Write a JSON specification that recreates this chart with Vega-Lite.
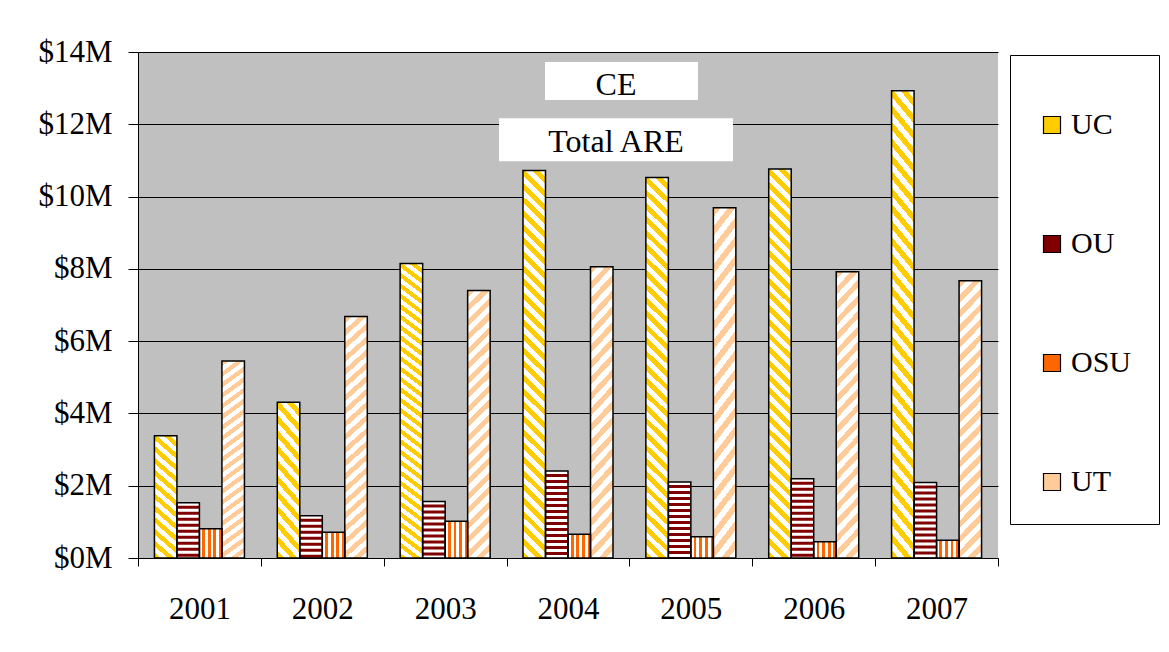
{
  "$schema": "https://vega.github.io/schema/vega-lite/v6.json",
  "width": 860,
  "height": 506,
  "autosize": {"type": "none"},
  "padding": {"left": 138, "top": 52, "right": 171, "bottom": 94},
  "background": "white",
  "config": {
    "view": {"fill": "#C0C0C0", "stroke": null},
    "font": "Liberation Serif",
    "axis": {"labelFont": "Liberation Serif", "labelFontSize": 31, "labelColor": "#000", "domainColor": "#000", "domainWidth": 1, "tickColor": "#000", "tickWidth": 1},
    "axisX": {"tickBand": "extent", "tickSize": 8, "labelPadding": 28, "labelAngle": 0, "grid": false},
    "axisY": {"grid": true, "gridColor": "#000", "gridWidth": 1, "gridOpacity": 1, "tickSize": 10, "labelPadding": 16},
    "legend": {"orient": "none", "legendX": 872, "legendY": 3, "padding": 27, "strokeColor": "#000", "strokeWidth": 1, "fillColor": "#fff", "symbolType": "square", "symbolSize": 289, "symbolStrokeColor": "#000", "symbolStrokeWidth": 1.2, "symbolOpacity": 1, "labelFont": "Liberation Serif", "labelFontSize": 30, "labelColor": "#000", "labelOffset": 4, "rowPadding": 89, "titleFontSize": 14, "titlePadding": 14}
  },
  "data": {"values": [
    {"year": "2001", "series": "UC", "v": 3.38}, {"year": "2001", "series": "OU", "v": 1.53}, {"year": "2001", "series": "OSU", "v": 0.81}, {"year": "2001", "series": "UT", "v": 5.45},
    {"year": "2002", "series": "UC", "v": 4.31}, {"year": "2002", "series": "OU", "v": 1.17}, {"year": "2002", "series": "OSU", "v": 0.71}, {"year": "2002", "series": "UT", "v": 6.68},
    {"year": "2003", "series": "UC", "v": 8.15}, {"year": "2003", "series": "OU", "v": 1.56}, {"year": "2003", "series": "OSU", "v": 1.02}, {"year": "2003", "series": "UT", "v": 7.40},
    {"year": "2004", "series": "UC", "v": 10.72}, {"year": "2004", "series": "OU", "v": 2.41}, {"year": "2004", "series": "OSU", "v": 0.66}, {"year": "2004", "series": "UT", "v": 8.06},
    {"year": "2005", "series": "UC", "v": 10.53}, {"year": "2005", "series": "OU", "v": 2.10}, {"year": "2005", "series": "OSU", "v": 0.59}, {"year": "2005", "series": "UT", "v": 9.69},
    {"year": "2006", "series": "UC", "v": 10.76}, {"year": "2006", "series": "OU", "v": 2.19}, {"year": "2006", "series": "OSU", "v": 0.45}, {"year": "2006", "series": "UT", "v": 7.92},
    {"year": "2007", "series": "UC", "v": 12.93}, {"year": "2007", "series": "OU", "v": 2.09}, {"year": "2007", "series": "OSU", "v": 0.49}, {"year": "2007", "series": "UT", "v": 7.67}
  ]},
  "layer": [
    {
      "mark": {"type": "bar"},
      "encoding": {
        "x": {"field": "year", "type": "nominal", "title": null, "scale": {"paddingInner": 0, "paddingOuter": 0}},
        "xOffset": {"field": "series", "type": "nominal", "scale": {"domain": ["UC", "OU", "OSU", "UT"], "paddingInner": 0, "paddingOuter": 0.73}},
        "y": {"field": "v", "type": "quantitative", "title": null, "scale": {"domain": [0, 14]}, "axis": {"values": [0, 2, 4, 6, 8, 10, 12, 14], "labelExpr": "'$' + datum.value + 'M'"}},
        "fill": {"field": "series", "type": "nominal", "scale": {"domain": ["UC", "OU", "OSU", "UT"], "range": ["#FFCC00", "#800000", "#FF6600", "#FFCC99"]}, "legend": {"title": " ", "encode": {"symbols": {"update": {"stroke": {"value": "#000"}, "strokeWidth": {"value": 1.2}, "fill": {"signal": "datum.value === 'UC' ? {gradient: 'linear', x1: 0, y1: 1, x2: 1, y2: 0, stops: [{offset: 0, color: '#fff'}, {offset: 0.3, color: '#fff'}, {offset: 0.3, color: '#fc0'}, {offset: 0.7, color: '#fc0'}, {offset: 0.7, color: '#fff'}, {offset: 1, color: '#fff'}]} : datum.value === 'OU' ? {gradient: 'linear', x1: 0, y1: 0, x2: 0, y2: 1, stops: [{offset: 0, color: '#800000'}, {offset: 0.2, color: '#800000'}, {offset: 0.2, color: '#fff'}, {offset: 0.4, color: '#fff'}, {offset: 0.4, color: '#800000'}, {offset: 0.6, color: '#800000'}, {offset: 0.6, color: '#fff'}, {offset: 0.8, color: '#fff'}, {offset: 0.8, color: '#800000'}, {offset: 1, color: '#800000'}]} : datum.value === 'OSU' ? {gradient: 'linear', x1: 0, y1: 0, x2: 1, y2: 0, stops: [{offset: 0, color: '#f60'}, {offset: 0.2, color: '#f60'}, {offset: 0.2, color: '#fff'}, {offset: 0.4, color: '#fff'}, {offset: 0.4, color: '#f60'}, {offset: 0.6, color: '#f60'}, {offset: 0.6, color: '#fff'}, {offset: 0.8, color: '#fff'}, {offset: 0.8, color: '#f60'}, {offset: 1, color: '#f60'}]} : {gradient: 'linear', x1: 0, y1: 0, x2: 1, y2: 1, stops: [{offset: 0, color: '#fff'}, {offset: 0.3, color: '#fff'}, {offset: 0.3, color: '#fc9'}, {offset: 0.7, color: '#fc9'}, {offset: 0.7, color: '#fff'}, {offset: 1, color: '#fff'}]}"}}}}}}
      }
    },
    {
      "transform": [{"filter": "datum.series === 'UC' && datum.v < 6"}],
      "mark": {"type": "bar", "fill": {"gradient": "linear", "x1": 0, "y1": 1, "x2": 0.1833, "y2": -0.1322, "stops": [
        {"offset": 0, "color": "#fc0"}, {"offset": 0.0417, "color": "#fc0"}, {"offset": 0.0417, "color": "#fff"}, {"offset": 0.0833, "color": "#fff"},
        {"offset": 0.0833, "color": "#fc0"}, {"offset": 0.125, "color": "#fc0"}, {"offset": 0.125, "color": "#fff"}, {"offset": 0.1667, "color": "#fff"},
        {"offset": 0.1667, "color": "#fc0"}, {"offset": 0.2083, "color": "#fc0"}, {"offset": 0.2083, "color": "#fff"}, {"offset": 0.25, "color": "#fff"},
        {"offset": 0.25, "color": "#fc0"}, {"offset": 0.2917, "color": "#fc0"}, {"offset": 0.2917, "color": "#fff"}, {"offset": 0.3333, "color": "#fff"},
        {"offset": 0.3333, "color": "#fc0"}, {"offset": 0.375, "color": "#fc0"}, {"offset": 0.375, "color": "#fff"}, {"offset": 0.4167, "color": "#fff"},
        {"offset": 0.4167, "color": "#fc0"}, {"offset": 0.4583, "color": "#fc0"}, {"offset": 0.4583, "color": "#fff"}, {"offset": 0.5, "color": "#fff"},
        {"offset": 0.5, "color": "#fc0"}, {"offset": 0.5417, "color": "#fc0"}, {"offset": 0.5417, "color": "#fff"}, {"offset": 0.5833, "color": "#fff"},
        {"offset": 0.5833, "color": "#fc0"}, {"offset": 0.625, "color": "#fc0"}, {"offset": 0.625, "color": "#fff"}, {"offset": 0.6667, "color": "#fff"},
        {"offset": 0.6667, "color": "#fc0"}, {"offset": 0.7083, "color": "#fc0"}, {"offset": 0.7083, "color": "#fff"}, {"offset": 0.75, "color": "#fff"},
        {"offset": 0.75, "color": "#fc0"}, {"offset": 0.7917, "color": "#fc0"}, {"offset": 0.7917, "color": "#fff"}, {"offset": 0.8333, "color": "#fff"},
        {"offset": 0.8333, "color": "#fc0"}, {"offset": 0.875, "color": "#fc0"}, {"offset": 0.875, "color": "#fff"}, {"offset": 0.9167, "color": "#fff"},
        {"offset": 0.9167, "color": "#fc0"}, {"offset": 0.9583, "color": "#fc0"}, {"offset": 0.9583, "color": "#fff"}, {"offset": 1, "color": "#fff"}
      ]}},
      "encoding": {
        "x": {"field": "year", "type": "nominal", "title": null},
        "xOffset": {"field": "series", "type": "nominal", "scale": {"domain": ["UC", "OU", "OSU", "UT"], "paddingInner": 0, "paddingOuter": 0.73}},
        "y": {"field": "v", "type": "quantitative", "title": null}
      }
    },
    {
      "transform": [{"filter": "datum.series === 'UC' && datum.v >= 6"}],
      "mark": {"type": "bar", "fill": {"gradient": "linear", "x1": 0, "y1": 1, "x2": 0.0608, "y2": -0.0542, "stops": [
        {"offset": 0, "color": "#fc0"}, {"offset": 0.0167, "color": "#fc0"}, {"offset": 0.0167, "color": "#fff"}, {"offset": 0.0333, "color": "#fff"},
        {"offset": 0.0333, "color": "#fc0"}, {"offset": 0.05, "color": "#fc0"}, {"offset": 0.05, "color": "#fff"}, {"offset": 0.0667, "color": "#fff"},
        {"offset": 0.0667, "color": "#fc0"}, {"offset": 0.0833, "color": "#fc0"}, {"offset": 0.0833, "color": "#fff"}, {"offset": 0.1, "color": "#fff"},
        {"offset": 0.1, "color": "#fc0"}, {"offset": 0.1167, "color": "#fc0"}, {"offset": 0.1167, "color": "#fff"}, {"offset": 0.1333, "color": "#fff"},
        {"offset": 0.1333, "color": "#fc0"}, {"offset": 0.15, "color": "#fc0"}, {"offset": 0.15, "color": "#fff"}, {"offset": 0.1667, "color": "#fff"},
        {"offset": 0.1667, "color": "#fc0"}, {"offset": 0.1833, "color": "#fc0"}, {"offset": 0.1833, "color": "#fff"}, {"offset": 0.2, "color": "#fff"},
        {"offset": 0.2, "color": "#fc0"}, {"offset": 0.2167, "color": "#fc0"}, {"offset": 0.2167, "color": "#fff"}, {"offset": 0.2333, "color": "#fff"},
        {"offset": 0.2333, "color": "#fc0"}, {"offset": 0.25, "color": "#fc0"}, {"offset": 0.25, "color": "#fff"}, {"offset": 0.2667, "color": "#fff"},
        {"offset": 0.2667, "color": "#fc0"}, {"offset": 0.2833, "color": "#fc0"}, {"offset": 0.2833, "color": "#fff"}, {"offset": 0.3, "color": "#fff"},
        {"offset": 0.3, "color": "#fc0"}, {"offset": 0.3167, "color": "#fc0"}, {"offset": 0.3167, "color": "#fff"}, {"offset": 0.3333, "color": "#fff"},
        {"offset": 0.3333, "color": "#fc0"}, {"offset": 0.35, "color": "#fc0"}, {"offset": 0.35, "color": "#fff"}, {"offset": 0.3667, "color": "#fff"},
        {"offset": 0.3667, "color": "#fc0"}, {"offset": 0.3833, "color": "#fc0"}, {"offset": 0.3833, "color": "#fff"}, {"offset": 0.4, "color": "#fff"},
        {"offset": 0.4, "color": "#fc0"}, {"offset": 0.4167, "color": "#fc0"}, {"offset": 0.4167, "color": "#fff"}, {"offset": 0.4333, "color": "#fff"},
        {"offset": 0.4333, "color": "#fc0"}, {"offset": 0.45, "color": "#fc0"}, {"offset": 0.45, "color": "#fff"}, {"offset": 0.4667, "color": "#fff"},
        {"offset": 0.4667, "color": "#fc0"}, {"offset": 0.4833, "color": "#fc0"}, {"offset": 0.4833, "color": "#fff"}, {"offset": 0.5, "color": "#fff"},
        {"offset": 0.5, "color": "#fc0"}, {"offset": 0.5167, "color": "#fc0"}, {"offset": 0.5167, "color": "#fff"}, {"offset": 0.5333, "color": "#fff"},
        {"offset": 0.5333, "color": "#fc0"}, {"offset": 0.55, "color": "#fc0"}, {"offset": 0.55, "color": "#fff"}, {"offset": 0.5667, "color": "#fff"},
        {"offset": 0.5667, "color": "#fc0"}, {"offset": 0.5833, "color": "#fc0"}, {"offset": 0.5833, "color": "#fff"}, {"offset": 0.6, "color": "#fff"},
        {"offset": 0.6, "color": "#fc0"}, {"offset": 0.6167, "color": "#fc0"}, {"offset": 0.6167, "color": "#fff"}, {"offset": 0.6333, "color": "#fff"},
        {"offset": 0.6333, "color": "#fc0"}, {"offset": 0.65, "color": "#fc0"}, {"offset": 0.65, "color": "#fff"}, {"offset": 0.6667, "color": "#fff"},
        {"offset": 0.6667, "color": "#fc0"}, {"offset": 0.6833, "color": "#fc0"}, {"offset": 0.6833, "color": "#fff"}, {"offset": 0.7, "color": "#fff"},
        {"offset": 0.7, "color": "#fc0"}, {"offset": 0.7167, "color": "#fc0"}, {"offset": 0.7167, "color": "#fff"}, {"offset": 0.7333, "color": "#fff"},
        {"offset": 0.7333, "color": "#fc0"}, {"offset": 0.75, "color": "#fc0"}, {"offset": 0.75, "color": "#fff"}, {"offset": 0.7667, "color": "#fff"},
        {"offset": 0.7667, "color": "#fc0"}, {"offset": 0.7833, "color": "#fc0"}, {"offset": 0.7833, "color": "#fff"}, {"offset": 0.8, "color": "#fff"},
        {"offset": 0.8, "color": "#fc0"}, {"offset": 0.8167, "color": "#fc0"}, {"offset": 0.8167, "color": "#fff"}, {"offset": 0.8333, "color": "#fff"},
        {"offset": 0.8333, "color": "#fc0"}, {"offset": 0.85, "color": "#fc0"}, {"offset": 0.85, "color": "#fff"}, {"offset": 0.8667, "color": "#fff"},
        {"offset": 0.8667, "color": "#fc0"}, {"offset": 0.8833, "color": "#fc0"}, {"offset": 0.8833, "color": "#fff"}, {"offset": 0.9, "color": "#fff"},
        {"offset": 0.9, "color": "#fc0"}, {"offset": 0.9167, "color": "#fc0"}, {"offset": 0.9167, "color": "#fff"}, {"offset": 0.9333, "color": "#fff"},
        {"offset": 0.9333, "color": "#fc0"}, {"offset": 0.95, "color": "#fc0"}, {"offset": 0.95, "color": "#fff"}, {"offset": 0.9667, "color": "#fff"},
        {"offset": 0.9667, "color": "#fc0"}, {"offset": 0.9833, "color": "#fc0"}, {"offset": 0.9833, "color": "#fff"}, {"offset": 1, "color": "#fff"}
      ]}},
      "encoding": {
        "x": {"field": "year", "type": "nominal", "title": null},
        "xOffset": {"field": "series", "type": "nominal", "scale": {"domain": ["UC", "OU", "OSU", "UT"], "paddingInner": 0, "paddingOuter": 0.73}},
        "y": {"field": "v", "type": "quantitative", "title": null}
      }
    },
    {
      "transform": [{"filter": "datum.series === 'UT'"}],
      "mark": {"type": "bar", "fill": {"gradient": "linear", "x1": 0, "y1": 0, "x2": 0.0897, "y2": 1.0759, "stops": [
        {"offset": 0, "color": "#fc9"}, {"offset": 0.025, "color": "#fc9"}, {"offset": 0.025, "color": "#fff"}, {"offset": 0.05, "color": "#fff"},
        {"offset": 0.05, "color": "#fc9"}, {"offset": 0.075, "color": "#fc9"}, {"offset": 0.075, "color": "#fff"}, {"offset": 0.1, "color": "#fff"},
        {"offset": 0.1, "color": "#fc9"}, {"offset": 0.125, "color": "#fc9"}, {"offset": 0.125, "color": "#fff"}, {"offset": 0.15, "color": "#fff"},
        {"offset": 0.15, "color": "#fc9"}, {"offset": 0.175, "color": "#fc9"}, {"offset": 0.175, "color": "#fff"}, {"offset": 0.2, "color": "#fff"},
        {"offset": 0.2, "color": "#fc9"}, {"offset": 0.225, "color": "#fc9"}, {"offset": 0.225, "color": "#fff"}, {"offset": 0.25, "color": "#fff"},
        {"offset": 0.25, "color": "#fc9"}, {"offset": 0.275, "color": "#fc9"}, {"offset": 0.275, "color": "#fff"}, {"offset": 0.3, "color": "#fff"},
        {"offset": 0.3, "color": "#fc9"}, {"offset": 0.325, "color": "#fc9"}, {"offset": 0.325, "color": "#fff"}, {"offset": 0.35, "color": "#fff"},
        {"offset": 0.35, "color": "#fc9"}, {"offset": 0.375, "color": "#fc9"}, {"offset": 0.375, "color": "#fff"}, {"offset": 0.4, "color": "#fff"},
        {"offset": 0.4, "color": "#fc9"}, {"offset": 0.425, "color": "#fc9"}, {"offset": 0.425, "color": "#fff"}, {"offset": 0.45, "color": "#fff"},
        {"offset": 0.45, "color": "#fc9"}, {"offset": 0.475, "color": "#fc9"}, {"offset": 0.475, "color": "#fff"}, {"offset": 0.5, "color": "#fff"},
        {"offset": 0.5, "color": "#fc9"}, {"offset": 0.525, "color": "#fc9"}, {"offset": 0.525, "color": "#fff"}, {"offset": 0.55, "color": "#fff"},
        {"offset": 0.55, "color": "#fc9"}, {"offset": 0.575, "color": "#fc9"}, {"offset": 0.575, "color": "#fff"}, {"offset": 0.6, "color": "#fff"},
        {"offset": 0.6, "color": "#fc9"}, {"offset": 0.625, "color": "#fc9"}, {"offset": 0.625, "color": "#fff"}, {"offset": 0.65, "color": "#fff"},
        {"offset": 0.65, "color": "#fc9"}, {"offset": 0.675, "color": "#fc9"}, {"offset": 0.675, "color": "#fff"}, {"offset": 0.7, "color": "#fff"},
        {"offset": 0.7, "color": "#fc9"}, {"offset": 0.725, "color": "#fc9"}, {"offset": 0.725, "color": "#fff"}, {"offset": 0.75, "color": "#fff"},
        {"offset": 0.75, "color": "#fc9"}, {"offset": 0.775, "color": "#fc9"}, {"offset": 0.775, "color": "#fff"}, {"offset": 0.8, "color": "#fff"},
        {"offset": 0.8, "color": "#fc9"}, {"offset": 0.825, "color": "#fc9"}, {"offset": 0.825, "color": "#fff"}, {"offset": 0.85, "color": "#fff"},
        {"offset": 0.85, "color": "#fc9"}, {"offset": 0.875, "color": "#fc9"}, {"offset": 0.875, "color": "#fff"}, {"offset": 0.9, "color": "#fff"},
        {"offset": 0.9, "color": "#fc9"}, {"offset": 0.925, "color": "#fc9"}, {"offset": 0.925, "color": "#fff"}, {"offset": 0.95, "color": "#fff"},
        {"offset": 0.95, "color": "#fc9"}, {"offset": 0.975, "color": "#fc9"}, {"offset": 0.975, "color": "#fff"}, {"offset": 1, "color": "#fff"}
      ]}},
      "encoding": {
        "x": {"field": "year", "type": "nominal", "title": null},
        "xOffset": {"field": "series", "type": "nominal", "scale": {"domain": ["UC", "OU", "OSU", "UT"], "paddingInner": 0, "paddingOuter": 0.73}},
        "y": {"field": "v", "type": "quantitative", "title": null}
      }
    },
    {
      "transform": [{"filter": "datum.series === 'OSU'"}],
      "mark": {"type": "bar", "fill": {"gradient": "linear", "x1": 0, "y1": 0, "x2": 1, "y2": 0, "stops": [
        {"offset": 0, "color": "#fff"}, {"offset": 0.125, "color": "#fff"}, {"offset": 0.125, "color": "#f60"}, {"offset": 0.25, "color": "#f60"},
        {"offset": 0.25, "color": "#fff"}, {"offset": 0.375, "color": "#fff"}, {"offset": 0.375, "color": "#f60"}, {"offset": 0.5, "color": "#f60"},
        {"offset": 0.5, "color": "#fff"}, {"offset": 0.625, "color": "#fff"}, {"offset": 0.625, "color": "#f60"}, {"offset": 0.75, "color": "#f60"},
        {"offset": 0.75, "color": "#fff"}, {"offset": 0.875, "color": "#fff"}, {"offset": 0.875, "color": "#f60"}, {"offset": 1, "color": "#f60"}
      ]}},
      "encoding": {
        "x": {"field": "year", "type": "nominal", "title": null},
        "xOffset": {"field": "series", "type": "nominal", "scale": {"domain": ["UC", "OU", "OSU", "UT"], "paddingInner": 0, "paddingOuter": 0.73}},
        "y": {"field": "v", "type": "quantitative", "title": null}
      }
    },
    {
      "transform": [{"filter": "datum.series === 'OU'"}],
      "mark": {"type": "rule", "color": "#fff", "strokeWidth": 22.5, "strokeCap": "butt", "strokeDash": [3, 3]},
      "encoding": {
        "x": {"field": "year", "type": "nominal", "title": null},
        "xOffset": {"field": "series", "type": "nominal", "scale": {"domain": ["UC", "OU", "OSU", "UT"], "paddingInner": 0, "paddingOuter": 0.73}},
        "y": {"field": "v", "type": "quantitative", "title": null},
        "y2": {"datum": 0}
      }
    },
    {
      "mark": {"type": "bar", "fill": "transparent", "stroke": "#000", "strokeWidth": 1.5},
      "encoding": {
        "x": {"field": "year", "type": "nominal", "title": null},
        "xOffset": {"field": "series", "type": "nominal", "scale": {"domain": ["UC", "OU", "OSU", "UT"], "paddingInner": 0, "paddingOuter": 0.73}},
        "y": {"field": "v", "type": "quantitative", "title": null}
      }
    },
    {
      "data": {"values": [{"t": "CE"}]},
      "mark": {"type": "bar", "fill": "#fff", "width": 153, "xOffset": 53.5},
      "encoding": {
        "x": {"datum": "2004", "type": "nominal"},
        "y": {"datum": 13.72, "type": "quantitative"},
        "y2": {"datum": 12.67}
      }
    },
    {
      "data": {"values": [{"t": "Total ARE"}]},
      "mark": {"type": "bar", "fill": "#fff", "width": 234, "xOffset": 48},
      "encoding": {
        "x": {"datum": "2004", "type": "nominal"},
        "y": {"datum": 12.17, "type": "quantitative"},
        "y2": {"datum": 10.98}
      }
    },
    {
      "data": {"values": [{"t": "CE"}]},
      "mark": {"type": "text", "font": "Liberation Serif", "fontSize": 32, "color": "#000", "dx": 48, "baseline": "middle", "align": "center"},
      "encoding": {
        "x": {"datum": "2004", "type": "nominal"},
        "y": {"datum": 13.09, "type": "quantitative"},
        "text": {"field": "t"}
      }
    },
    {
      "data": {"values": [{"t": "Total ARE"}]},
      "mark": {"type": "text", "font": "Liberation Serif", "fontSize": 32, "color": "#000", "dx": 48, "baseline": "middle", "align": "center"},
      "encoding": {
        "x": {"datum": "2004", "type": "nominal"},
        "y": {"datum": 11.52, "type": "quantitative"},
        "text": {"field": "t"}
      }
    }
  ]
}
